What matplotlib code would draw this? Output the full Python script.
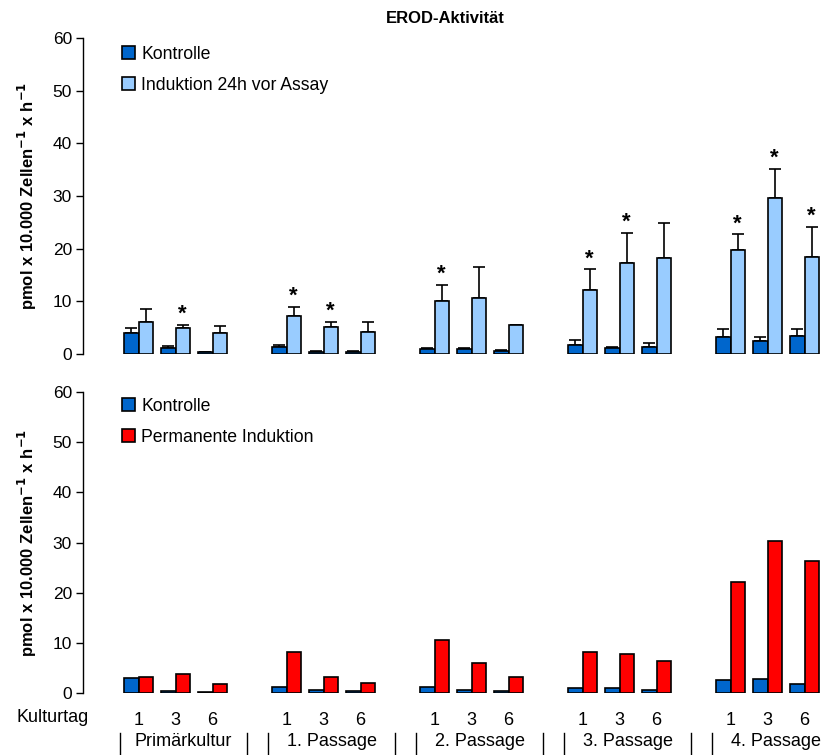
import matplotlib.pyplot as plt
import numpy as np

# EROD-Aktivität, zwei Panels
passagen = ['Primärkultur', '1. Passage', '2. Passage', '3. Passage', '4. Passage']
tage = ['1', '3', '6']

# oben: Kontrolle vs. Induktion 24h vor Assay
oben_kontrolle = [3.9, 1.1, 0.3, 1.3, 0.4, 0.4, 0.95, 0.95, 0.6, 1.8, 1.1, 1.3, 3.2, 2.5, 3.4]
oben_kontrolle_err = [1.0, 0.5, 0.1, 0.5, 0.2, 0.2, 0.15, 0.15, 0.2, 0.8, 0.3, 0.7, 1.5, 0.7, 1.3]
oben_induktion = [6.1, 4.9, 3.9, 7.2, 5.1, 4.1, 10.1, 10.6, 5.6, 12.1, 17.3, 18.3, 19.7, 29.7, 18.5]
oben_induktion_err = [2.5, 0.7, 1.5, 1.7, 1.0, 2.0, 3.1, 6.0, 0.0, 4.0, 5.7, 6.6, 3.0, 5.5, 5.7]
signifikant = [0, 1, 0, 1, 1, 0, 1, 0, 0, 1, 1, 0, 1, 1, 1]

# unten: Kontrolle vs. permanente Induktion
unten_kontrolle = [2.9, 0.4, 0.2, 1.2, 0.7, 0.5, 1.2, 0.7, 0.4, 1.0, 1.0, 0.7, 2.5, 2.7, 1.7]
unten_induktion = [3.2, 3.7, 1.7, 8.2, 3.2, 1.9, 10.6, 5.9, 3.2, 8.2, 7.7, 6.4, 22.2, 30.3, 26.4]

c_kontrolle = '#0066CC'
c_hell = '#99CCFF'
c_rot = '#FF0000'

plt.rcParams['font.family'] = ['Liberation Sans', 'DejaVu Sans']

# je Passage 4 Plätze: 1 leer + 3 Tage
pos = np.array([4 * g + 1 + d for g in range(len(passagen)) for d in range(len(tage))]) + 0.5
w = 0.39

fig = plt.figure(figsize=(8.23, 7.55), dpi=100)
ax1 = fig.add_axes([0.1009, 0.5311, 0.8991, 0.4185])
ax2 = fig.add_axes([0.1009, 0.0821, 0.8991, 0.3987])

ylabel = 'pmol x 10.000 Zellen$^{\\mathbf{-1}}$ x h$^{\\mathbf{-1}}$'
leg_kw = dict(loc='upper left', frameon=False, fontsize=12.7, handlelength=0.75,
              handleheight=0.75, handletextpad=0.35, labelspacing=0.8, borderaxespad=0)

for ax in (ax1, ax2):
    ax.set_xlim(0, 20)
    ax.set_ylim(0, 60)
    ax.set_yticks(range(0, 61, 10))
    for s in ('top', 'right', 'bottom'):
        ax.spines[s].set_visible(False)
    ax.spines['left'].set_linewidth(1.0)
    ax.tick_params(axis='y', direction='out', length=5, width=1, labelsize=12.5, pad=3)
    ax.set_ylabel(ylabel, fontsize=12, fontweight='bold', labelpad=10)

# oberes Panel
ax1.bar(pos - w / 2, oben_kontrolle, w, color=c_kontrolle, edgecolor='black', linewidth=1.2,
        label='Kontrolle', zorder=3)
ax1.bar(pos + w / 2, oben_induktion, w, color=c_hell, edgecolor='black', linewidth=1.2,
        label='Induktion 24h vor Assay', zorder=3)
ax1.errorbar(pos - w / 2, oben_kontrolle, yerr=[np.zeros(15), oben_kontrolle_err], fmt='none',
             ecolor='black', elinewidth=1.2, capsize=4, capthick=1.2, zorder=2)
ax1.errorbar(pos + w / 2, oben_induktion, yerr=[np.zeros(15), oben_induktion_err], fmt='none',
             ecolor='black', elinewidth=1.2, capsize=4, capthick=1.2, zorder=2)
for x, v, e, s in zip(pos, oben_induktion, oben_induktion_err, signifikant):
    if s:
        ax1.annotate('*', (x + w / 2, v + e), xytext=(0, 0), textcoords='offset points',
                     ha='center', va='bottom', fontsize=16, fontweight='bold')
ax1.set_xticks([])
ax1.legend(bbox_to_anchor=(0.043, 0.998), **leg_kw)

# unteres Panel
ax2.bar(pos - w / 2, unten_kontrolle, w, color=c_kontrolle, edgecolor='black', linewidth=1.2,
        label='Kontrolle', zorder=3)
ax2.bar(pos + w / 2, unten_induktion, w, color=c_rot, edgecolor='black', linewidth=1.2,
        label='Permanente Induktion', zorder=3)
ax2.set_xticks(pos)
ax2.set_xticklabels(tage * len(passagen))
ax2.tick_params(axis='x', length=0, labelsize=13, pad=14)
ax2.legend(bbox_to_anchor=(0.043, 1.005), **leg_kw)

fig.text(17 / 823, 1 - 718 / 755, 'Kulturtag', ha='left', va='center', fontsize=13)

# Passagen-Beschriftung mit Trennstrichen
trans = ax2.get_xaxis_transform()
for g, name in enumerate(passagen):
    mitte = 4 * g + 2.72
    ax2.text(mitte, -0.162, name, transform=trans, ha='center', va='center', fontsize=13)
    for x in (mitte - 1.71, mitte + 1.71):
        ax2.plot([x, x], [-0.133, -0.21], transform=trans, color='black', lw=1.0, clip_on=False)

fig.text(0.541, 0.976, 'EROD-Aktivität', ha='center', va='center', fontsize=12, fontweight='bold')

fig.savefig('out.png', dpi=100)
